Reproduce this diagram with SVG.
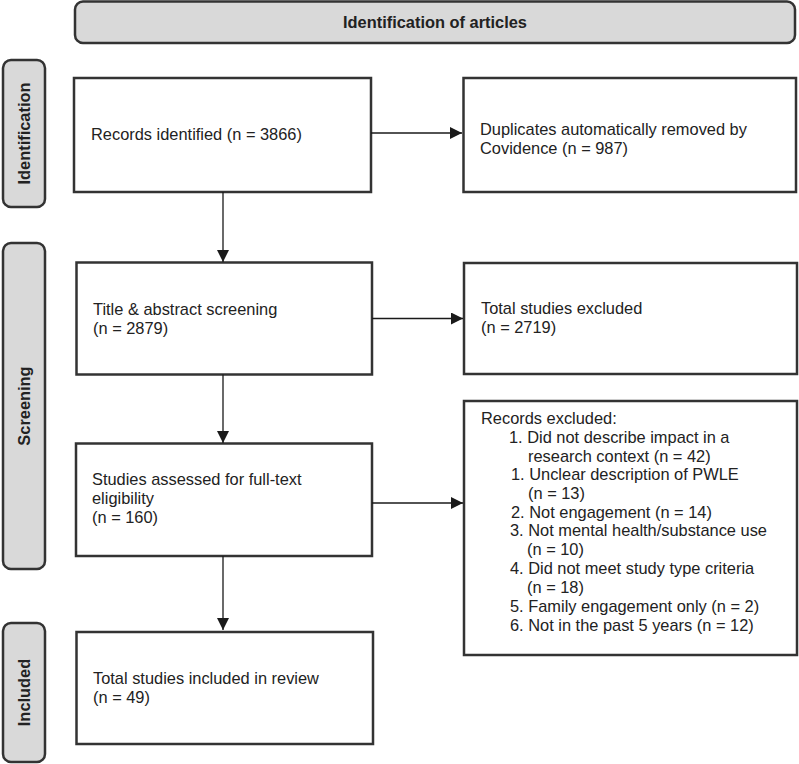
<svg xmlns="http://www.w3.org/2000/svg" width="799" height="764" viewBox="0 0 799 764">
<defs>
<marker id="ah" viewBox="0 0 10 10" refX="10" refY="5" markerWidth="12" markerHeight="12" markerUnits="userSpaceOnUse" orient="auto">
<path d="M0,0 L10,5 L0,10 z" fill="#1a1a1a"/>
</marker>
</defs>
<style>
text{font-family:"Liberation Sans",Arial,sans-serif;font-size:16.4px;fill:#222}
.b{font-weight:bold}
.band{fill:#d9d9d9;stroke:#333;stroke-width:2.5}
.box{fill:#fff;stroke:#333;stroke-width:2.5}
.c{stroke:#1a1a1a;stroke-width:1.3;fill:none;marker-end:url(#ah)}
</style>
<g id="banner">
<rect class="band" x="75" y="1.5" width="720" height="41.5" rx="8"/>
<text class="b" x="435" y="28" text-anchor="middle">Identification of articles</text>
</g>
<g id="side-identification">
<rect class="band" x="3" y="60" width="42" height="147" rx="8"/>
<text class="b" transform="translate(30,133.5) rotate(-90)" text-anchor="middle">Identification</text>
</g>
<g id="side-screening">
<rect class="band" x="3" y="243" width="42" height="326" rx="8"/>
<text class="b" transform="translate(30,406) rotate(-90)" text-anchor="middle">Screening</text>
</g>
<g id="side-included">
<rect class="band" x="3" y="623" width="42" height="139" rx="8"/>
<text class="b" transform="translate(30,692.5) rotate(-90)" text-anchor="middle">Included</text>
</g>
<g id="records-identified">
<rect class="box" x="74" y="78" width="297" height="114"/>
<text x="91" y="140">Records identified (n = 3866)</text>
</g>
<g id="duplicates">
<rect class="box" x="463.5" y="78" width="332.5" height="114"/>
<text x="480" y="135">Duplicates automatically removed by</text>
<text x="480" y="154">Covidence (n = 987)</text>
</g>
<g id="title-abstract">
<rect class="box" x="76.5" y="262.5" width="295.5" height="112"/>
<text x="93" y="315">Title &amp; abstract screening</text>
<text x="93" y="334">(n = 2879)</text>
</g>
<g id="total-excluded">
<rect class="box" x="464" y="263" width="333" height="111"/>
<text x="481" y="314">Total studies excluded</text>
<text x="481" y="333">(n = 2719)</text>
</g>
<g id="full-text">
<rect class="box" x="76" y="443.5" width="296" height="112.5"/>
<text x="92" y="485">Studies assessed for full-text</text>
<text x="92" y="504">eligibility</text>
<text x="92" y="523">(n = 160)</text>
</g>
<g id="records-excluded">
<rect class="box" x="464" y="401" width="333" height="254"/>
<text x="481" y="424">Records excluded:</text>
<text x="509" y="443">1. Did not describe impact in a</text>
<text x="528" y="461.5">research context (n = 42)</text>
<text x="511" y="480">1. Unclear description of PWLE</text>
<text x="528" y="499">(n = 13)</text>
<text x="511" y="517.5">2. Not engagement (n = 14)</text>
<text x="510" y="536">3. Not mental health/substance use</text>
<text x="527" y="555">(n = 10)</text>
<text x="510" y="574">4. Did not meet study type criteria</text>
<text x="527" y="593">(n = 18)</text>
<text x="510" y="612">5. Family engagement only (n = 2)</text>
<text x="510" y="631">6. Not in the past 5 years (n = 12)</text>
</g>
<g id="included">
<rect class="box" x="76.5" y="632" width="296.5" height="112"/>
<text x="93" y="684">Total studies included in review</text>
<text x="93" y="703">(n = 49)</text>
</g>
<g id="connectors">
<path class="c" d="M371,133 H462"/>
<path class="c" d="M223,192 V262"/>
<path class="c" d="M372,318.5 H463"/>
<path class="c" d="M223,374.5 V443"/>
<path class="c" d="M372,503 H463"/>
<path class="c" d="M223,556 V630"/>
</g>
</svg>
